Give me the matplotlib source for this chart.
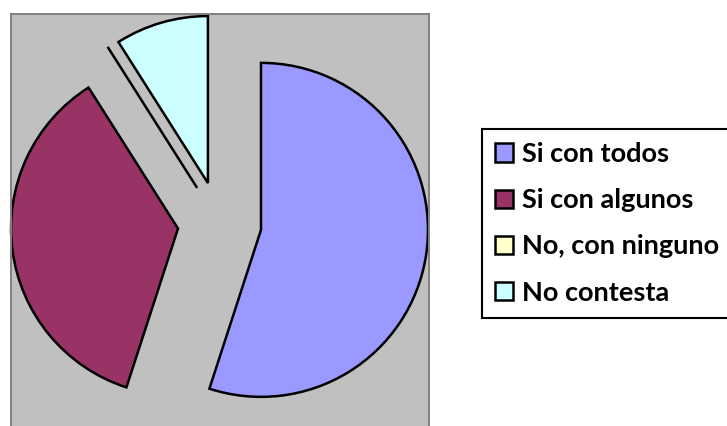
import matplotlib
matplotlib.use("Agg")
import matplotlib.pyplot as plt

labels = ["Si con todos", "Si con algunos", "No, con ninguno", "No contesta"]
values = [55, 36, 0, 9]
colors = ["#9999FF", "#993366", "#FFFFCC", "#CCFFFF"]

W, H = 727, 426
# pie centre / radius in pixels, used only to place the axes
cx, cy, R = 219.6, 223.3, 167.0

fig = plt.figure(figsize=(W / 100, H / 100), dpi=100)
left, right, top, bottom = 11, 429, 14, 430
ax = fig.add_axes([left / W, 1 - bottom / H, (right - left) / W, (bottom - top) / H])
ax.set_facecolor("#C0C0C0")

wedges, _ = ax.pie(
    values,
    colors=colors,
    startangle=90,
    counterclock=False,
    explode=[0.251] * 4,
    radius=1,
    frame=True,
    wedgeprops=dict(edgecolor="black", linewidth=1.8),
)
ax.set_aspect("auto")
ax.set_xlim((left - cx) / R, (right - cx) / R)
ax.set_ylim((cy - bottom) / R, (cy - top) / R)
ax.set_xticks([])
ax.set_yticks([])
for s in ax.spines.values():
    s.set_color("#808080")
    s.set_linewidth(1.4)

fs = 19.5
leg = fig.legend(
    wedges,
    labels,
    loc="upper left",
    bbox_to_anchor=(482 / W, 1 - 129 / H),
    bbox_transform=fig.transFigure,
    borderaxespad=0,
    prop={"family": "Lato", "weight": "bold", "size": fs},
    handlelength=0.665,
    handleheight=0.665,
    handletextpad=0.33,
    labelspacing=0.82,
    borderpad=0.48,
    fancybox=False,
    framealpha=1,
    edgecolor="black",
)
leg.get_frame().set_linewidth(1.5)

fig.savefig("out.png", dpi=100)
